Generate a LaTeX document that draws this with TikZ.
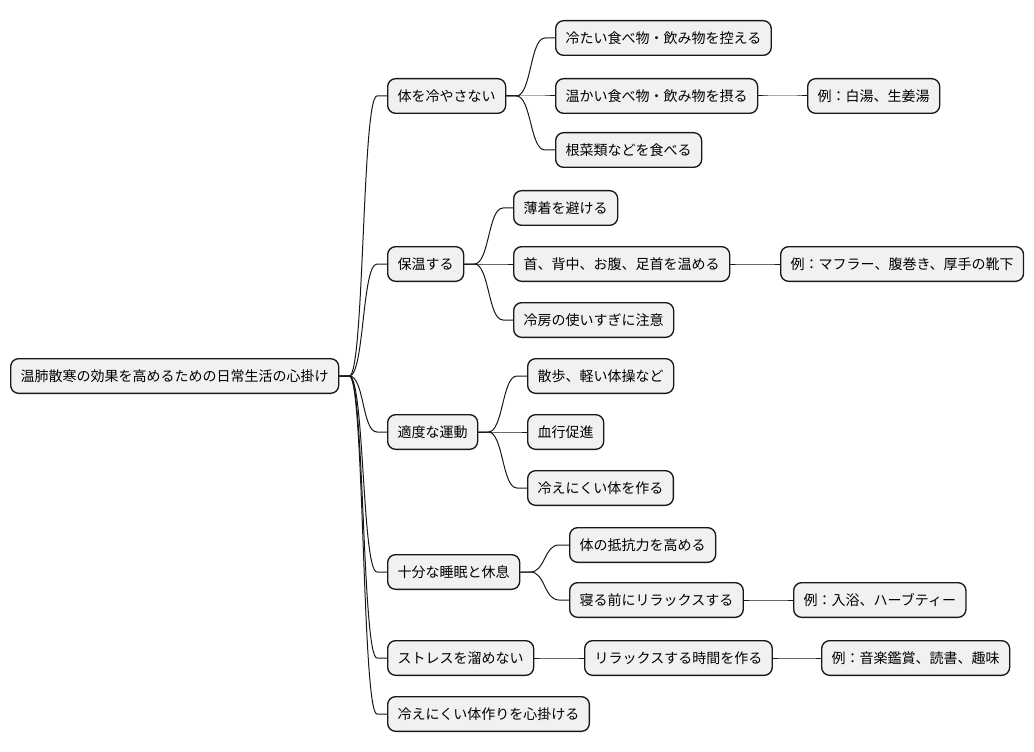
\documentclass[tikz,border=0pt]{standalone}
\usepackage{fontspec}
\setmainfont{Noto Sans CJK JP}
\usepackage{tikz}
\usetikzlibrary{positioning}
\definecolor{MapFill}{HTML}{F1F1F1}
\definecolor{MapLine}{HTML}{181818}
\tikzset{
  topic/.style={draw=MapLine,line width=1pt,fill=MapFill,rounded corners=6pt,
    anchor=west,inner xsep=7.5pt,inner ysep=0pt,minimum height=26pt,font=\fontsize{10.5}{12}\selectfont},
  link/.style={draw=MapLine,line width=0.75pt}
}

\begin{document}
\begin{tikzpicture}[x=0.75pt,y=-0.75pt]
  \useasboundingbox (0,0) rectangle (1034,752);
  % root
  \node[topic] (root) at (10,376) {温肺散寒の効果を高めるための日常生活の心掛け};
  % first level
  \node[topic] (cold) at (387,96) {体を冷やさない};
  \node[topic] (warm) at (387,264) {保温する};
  \node[topic] (move) at (387,432) {適度な運動};
  \node[topic] (rest) at (387,572) {十分な睡眠と休息};
  \node[topic] (stress) at (387,658) {ストレスを溜めない};
  \node[topic] (body) at (387,714) {冷えにくい体作りを心掛ける};
  % second level
  \node[topic] (cold1) at (555,38) {冷たい食べ物・飲み物を控える};
  \node[topic] (cold2) at (555,96) {温かい食べ物・飲み物を摂る};
  \node[topic] (cold3) at (555,150) {根菜類などを食べる};
  \node[topic] (warm1) at (513,208) {薄着を避ける};
  \node[topic] (warm2) at (513,264) {首、背中、お腹、足首を温める};
  \node[topic] (warm3) at (513,320) {冷房の使いすぎに注意};
  \node[topic] (move1) at (527,376) {散歩、軽い体操など};
  \node[topic] (move2) at (527,432) {血行促進};
  \node[topic] (move3) at (527,488) {冷えにくい体を作る};
  \node[topic] (rest1) at (569,545) {体の抵抗力を高める};
  \node[topic] (rest2) at (569,600) {寝る前にリラックスする};
  \node[topic] (stress1) at (584,658) {リラックスする時間を作る};
  % third level
  \node[topic] (ex1) at (807,96) {例：白湯、生姜湯};
  \node[topic] (ex2) at (780,264) {例：マフラー、腹巻き、厚手の靴下};
  \node[topic] (ex3) at (793,600) {例：入浴、ハーブティー};
  \node[topic] (ex4) at (821,658) {例：音楽鑑賞、読書、趣味};
  % branches
  \foreach \p/\c in {root/cold,root/warm,root/move,root/rest,root/stress,root/body,
      cold/cold1,cold/cold2,cold/cold3,warm/warm1,warm/warm2,warm/warm3,
      move/move1,move/move2,move/move3,rest/rest1,rest/rest2,stress/stress1,
      cold2/ex1,warm2/ex2,rest2/ex3,stress1/ex4}
    \draw[link] (\p.east) -- ++(10,0) .. controls +(15,0) and +(-15,0) .. ([xshift=-7.5pt]\c.west) -- (\c.west);
\end{tikzpicture}
\end{document}
